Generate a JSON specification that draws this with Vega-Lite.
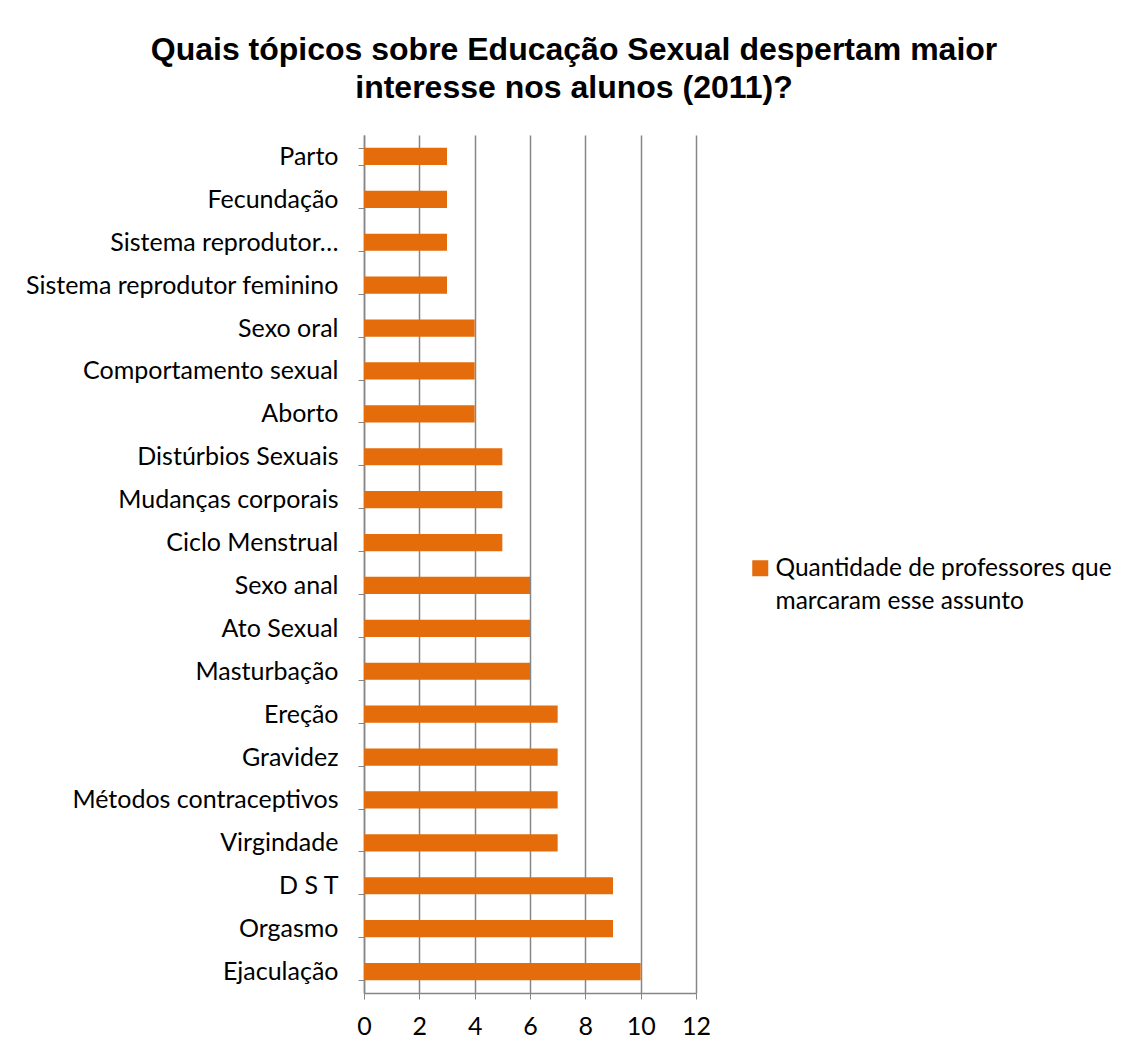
{
  "$schema": "https://vega.github.io/schema/vega-lite/v6.json",
  "width": 332,
  "height": 858,
  "autosize": {"type": "none"},
  "padding": {"left": 364, "top": 135, "right": 441, "bottom": 62},
  "background": "white",
  "title": {
    "text": ["Quais tópicos sobre Educação Sexual despertam maior", "interesse nos alunos (2011)?"],
    "font": "Liberation Sans",
    "fontSize": 32,
    "fontWeight": "bold",
    "lineHeight": 38,
    "color": "black",
    "anchor": "middle",
    "dx": 44,
    "offset": 18
  },
  "data": {
    "values": [
      {"topico": "Parto", "valor": 3, "serie": "Quantidade de professores que marcaram esse assunto"},
      {"topico": "Fecundação", "valor": 3, "serie": "Quantidade de professores que marcaram esse assunto"},
      {"topico": "Sistema reprodutor…", "valor": 3, "serie": "Quantidade de professores que marcaram esse assunto"},
      {"topico": "Sistema reprodutor feminino", "valor": 3, "serie": "Quantidade de professores que marcaram esse assunto"},
      {"topico": "Sexo oral", "valor": 4, "serie": "Quantidade de professores que marcaram esse assunto"},
      {"topico": "Comportamento sexual", "valor": 4, "serie": "Quantidade de professores que marcaram esse assunto"},
      {"topico": "Aborto", "valor": 4, "serie": "Quantidade de professores que marcaram esse assunto"},
      {"topico": "Distúrbios Sexuais", "valor": 5, "serie": "Quantidade de professores que marcaram esse assunto"},
      {"topico": "Mudanças corporais", "valor": 5, "serie": "Quantidade de professores que marcaram esse assunto"},
      {"topico": "Ciclo Menstrual", "valor": 5, "serie": "Quantidade de professores que marcaram esse assunto"},
      {"topico": "Sexo anal", "valor": 6, "serie": "Quantidade de professores que marcaram esse assunto"},
      {"topico": "Ato Sexual", "valor": 6, "serie": "Quantidade de professores que marcaram esse assunto"},
      {"topico": "Masturbação", "valor": 6, "serie": "Quantidade de professores que marcaram esse assunto"},
      {"topico": "Ereção", "valor": 7, "serie": "Quantidade de professores que marcaram esse assunto"},
      {"topico": "Gravidez", "valor": 7, "serie": "Quantidade de professores que marcaram esse assunto"},
      {"topico": "Métodos contraceptivos", "valor": 7, "serie": "Quantidade de professores que marcaram esse assunto"},
      {"topico": "Virgindade", "valor": 7, "serie": "Quantidade de professores que marcaram esse assunto"},
      {"topico": "D S T", "valor": 9, "serie": "Quantidade de professores que marcaram esse assunto"},
      {"topico": "Orgasmo", "valor": 9, "serie": "Quantidade de professores que marcaram esse assunto"},
      {"topico": "Ejaculação", "valor": 10, "serie": "Quantidade de professores que marcaram esse assunto"}
    ]
  },
  "mark": {"type": "bar"},
  "encoding": {
    "y": {
      "field": "topico",
      "type": "nominal",
      "sort": null,
      "scale": {"paddingInner": 0.6, "paddingOuter": 0.3},
      "axis": {
        "title": null,
        "tickBand": "extent",
        "tickSize": 6,
        "tickColor": "#868686",
        "domainColor": "#868686",
        "domainWidth": 1.5,
        "labelFont": "Lato",
        "labelFontSize": 25,
        "labelColor": "black",
        "labelPadding": 20,
        "labelLimit": 400,
        "grid": false
      }
    },
    "x": {
      "field": "valor",
      "type": "quantitative",
      "scale": {"domain": [0, 12], "nice": false},
      "axis": {
        "title": null,
        "values": [0, 2, 4, 6, 8, 10, 12],
        "grid": true,
        "gridColor": "#868686",
        "gridWidth": 1.5,
        "tickSize": 6,
        "tickColor": "#868686",
        "domainColor": "#868686",
        "domainWidth": 1.5,
        "labelFont": "Lato",
        "labelFontSize": 25,
        "labelColor": "black",
        "labelPadding": 15,
        "labelFlush": false
      }
    },
    "color": {
      "field": "serie",
      "type": "nominal",
      "scale": {"range": ["#E46C0A"]},
      "legend": {
        "title": null,
        "orient": "none",
        "legendX": 384,
        "legendY": 421,
        "symbolType": "square",
        "symbolSize": 256,
        "symbolStrokeWidth": 0,
        "labelFont": "Lato",
        "labelFontSize": 24.5,
        "labelColor": "black",
        "labelOffset": 3,
        "labelLimit": 500,
        "labelBaseline": "alphabetic",
        "labelExpr": "['Quantidade de professores que', 'marcaram esse assunto']",
        "encode": {
          "labels": {"update": {"lineHeight": {"value": 33}, "dy": {"value": 8}}}
        }
      }
    }
  },
  "config": {"view": {"stroke": null}}
}
